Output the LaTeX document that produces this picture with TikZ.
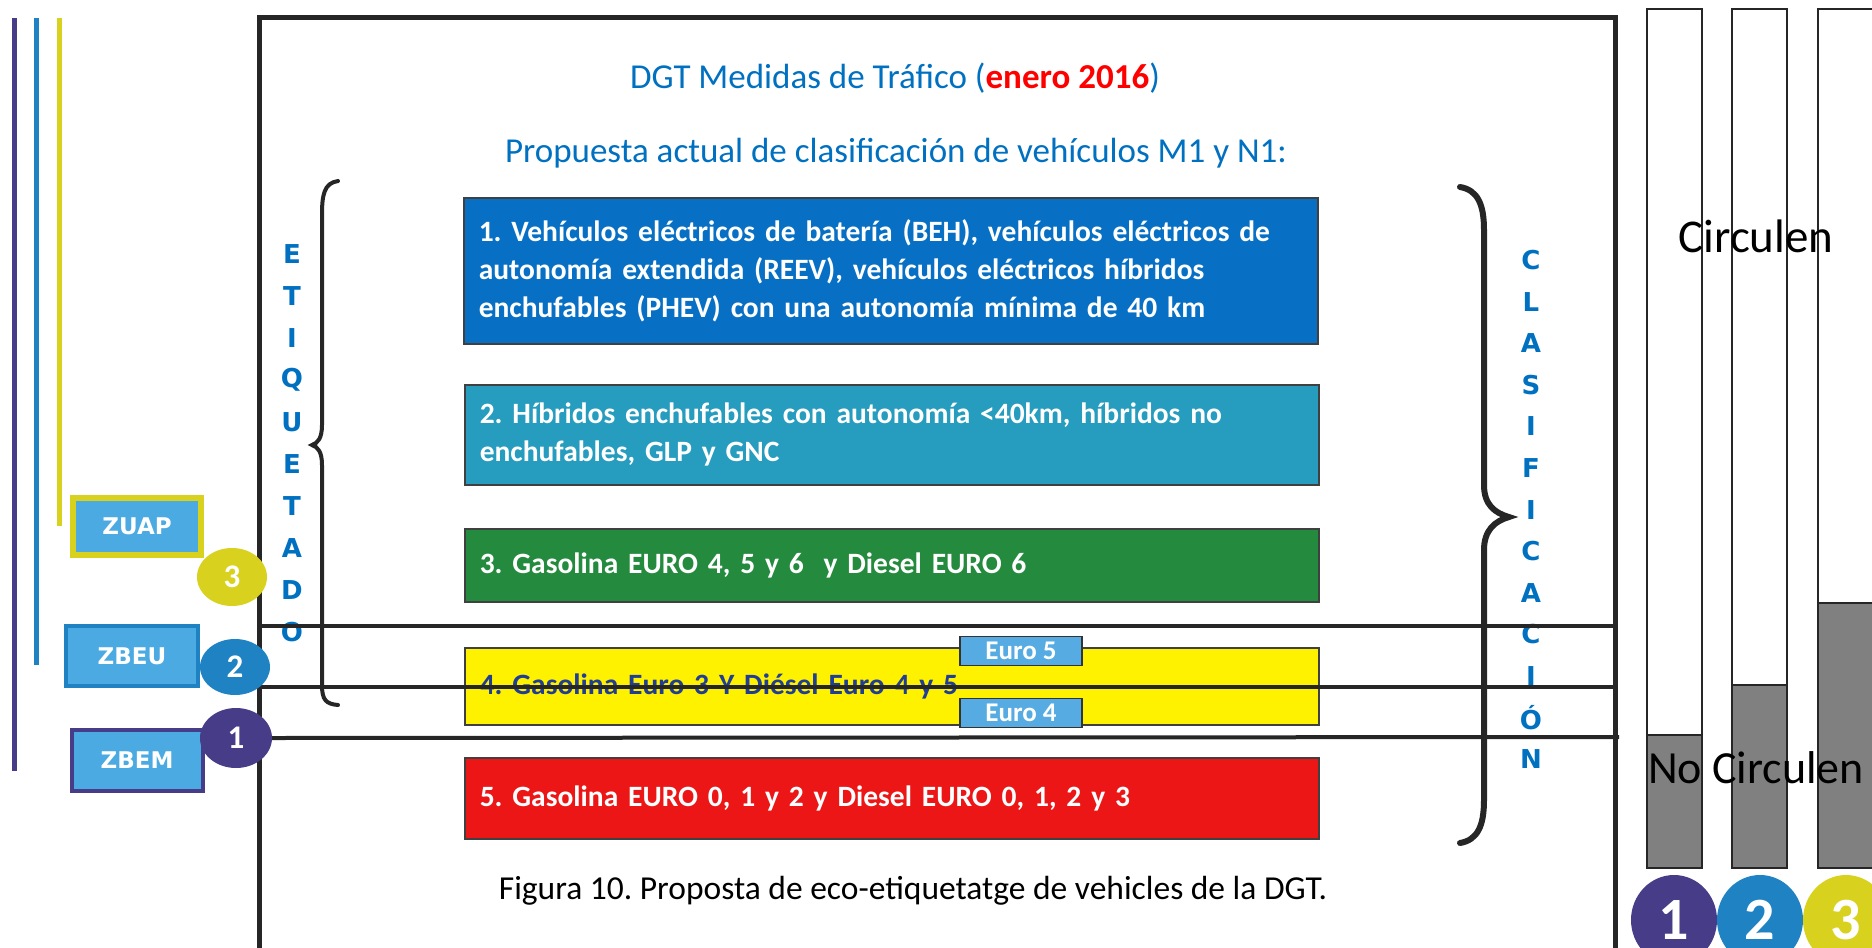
\documentclass[tikz,border=0pt]{standalone}
\usepackage{fontspec}
\setmainfont{Carlito}
\newfontfamily\vfont{DejaVu Sans}
\usetikzlibrary{positioning,shapes.geometric}
\definecolor{dgtblue}{RGB}{0,112,192}
\definecolor{catone}{RGB}{8,112,196}
\definecolor{cattwo}{RGB}{38,156,190}
\definecolor{catthree}{RGB}{36,138,62}
\definecolor{catfour}{RGB}{32,62,150}
\definecolor{catfive}{RGB}{236,22,22}
\definecolor{eurofill}{RGB}{86,172,226}
\definecolor{zonefill}{RGB}{76,170,226}
\definecolor{zpurple}{RGB}{70,60,135}
\definecolor{zblue}{RGB}{30,130,195}
\definecolor{zyellow}{RGB}{216,210,30}
\definecolor{nogray}{RGB}{128,128,128}
\frenchspacing

\begin{document}
\begin{tikzpicture}[x=1pt,y=-1pt,
  cat/.style={draw=black!75,line width=1.5pt,anchor=north west,text width=824pt,
    inner xsep=15pt,align=left,text=white,font=\fontsize{29.5}{38}\selectfont\bfseries},
  euro/.style={draw=black!80,line width=1.2pt,fill=eurofill,text=white,inner sep=0pt,
    minimum width=122pt,minimum height=29pt,font=\fontsize{27}{27}\selectfont\bfseries},
  zone/.style={fill=zonefill,text=white,inner sep=0pt,font=\vfont\fontsize{23}{23}\selectfont\bfseries},
  num/.style={ellipse,inner sep=0pt,text=white,font=\fontsize{33}{33}\selectfont\bfseries},
  bignum/.style={ellipse,inner sep=0pt,minimum width=86pt,minimum height=90pt,
    text=white,font=\fontsize{60}{60}\selectfont\bfseries},
  vlet/.style={text=dgtblue,inner sep=0pt,font=\vfont\fontsize{26}{26}\selectfont\bfseries},
  cut/.style={line width=4pt,black!85},
  brace/.style={line width=4pt,black!85,line cap=round},
  bar/.style={draw=black!85,line width=1.5pt}]
\useasboundingbox (0,0) rectangle (1872,948);

% zone lines on the left
\draw[line width=5pt,zpurple] (14,18) -- (14,771);
\draw[line width=5pt,zblue] (36,18) -- (36,665);
\draw[line width=5pt,zyellow] (59,18) -- (59,526);

% frame
\draw[line width=5pt,black!85] (259,960) |- (1615,17) -- (1615,960);

\node[font=\fontsize{35}{35}\selectfont,text=dgtblue] (title) at (895,78)
  {DGT Medidas de Tráfico (\textcolor{red}{\bfseries enero 2016})};
\node[font=\fontsize{35}{35}\selectfont,text=dgtblue] (sub) at (896,153)
  {Propuesta actual de clasificación de vehículos M1 y N1:};

\node[cat,fill=catone,minimum height=146pt] (c1) at (463,197)
  {1. Vehículos eléctricos de batería (BEH), vehículos eléctricos de\\
   autonomía extendida (REEV), vehículos eléctricos híbridos\\
   enchufables (PHEV) con una autonomía mínima de 40 km};
\node[cat,fill=cattwo,minimum height=100pt] (c2) at (464,384)
  {2. Híbridos enchufables con autonomía <40km, híbridos no\\
   enchufables, GLP y GNC};
\node[cat,fill=catthree,minimum height=73pt] (c3) at (464,528)
  {3. Gasolina EURO 4, 5 y 6\ \ y Diesel EURO 6};
\node[cat,fill=yellow,text=catfour,minimum height=77pt] (c4) at (464,647)
  {4. Gasolina Euro 3 Y Diésel Euro 4 y 5};
\node[cat,fill=catfive,minimum height=81pt] (c5) at (464,757)
  {5. Gasolina EURO 0, 1 y 2 y Diesel EURO 0, 1, 2 y 3};

\node[euro] (e5) at (1021,651) {Euro 5};
\node[euro] (e4) at (1021,713) {Euro 4};

\node[font=\fontsize{33.5}{33.5}\selectfont] (cap) at (913,891)
  {Figura 10. Proposta de eco-etiquetatge de vehicles de la DGT.};

% braces
\draw[brace] (338,181) .. controls (324,183) and (322,195) .. (322,215) -- (322,425)
  .. controls (322,438) and (318,443) .. (312,445) .. controls (318,447) and (322,452) .. (322,465)
  -- (322,685) .. controls (322,700) and (326,704) .. (338,705);
\draw[brace,line width=6pt] (1460,187) .. controls (1478,190) and (1484,205) .. (1484,230)
  -- (1484,485) .. controls (1484,505) and (1495,513) .. (1509,517)
  .. controls (1495,521) and (1484,530) .. (1484,550) -- (1484,800)
  .. controls (1484,825) and (1478,840) .. (1460,843);

\foreach \l [count=\i from 0] in {E,T,I,Q,U,E,T,A,D,O}
  \node[vlet] (et\i) at (292,{254+42*\i}) {\l};
\foreach \l [count=\i from 0] in {C,L,A,S,I,F,I,C,A,C,I,Ó,N}
  \node[vlet] (cl\i) at (1531,{260+41.6*\i}) {\l};

% euro cut lines
\coordinate (a0) at (257,626);
\coordinate (a1) at (1615,626);
\coordinate (b0) at (257,687);
\coordinate (b1) at (1615,687);
\coordinate (k1) at (1619,737);
\draw[cut] (a0) -- (a1);
\draw[cut] (b0) -- (b1);

% zones
\node[zone,draw=zyellow,line width=6pt,minimum width=128pt,minimum height=57pt] (zuap) at (137,526) {ZUAP};
\node[zone,draw=zblue,line width=4pt,minimum width=132pt,minimum height=60pt] (zbeu) at (132,656) {ZBEU};
\node[zone,draw=zpurple,line width=4pt,minimum width=131pt,minimum height=61pt] (zbem) at (137,760) {ZBEM};
\node[num,fill=zyellow,minimum width=70pt,minimum height=58pt] (n3) at (232,577) {3};
\node[num,fill=zblue,minimum width=70pt,minimum height=56pt] (n2) at (235,667) {2};
\node[num,fill=zpurple,minimum width=72pt,minimum height=60pt] (n1) at (236,738) {1};
\draw[cut] (n1.east) -- (k1);

% bars
\foreach \x/\t in {1647/735,1732/685,1818/603} {
  \draw[bar] (\x,9) rectangle ++(55,859);
  \draw[bar,fill=nogray] (\x,\t) rectangle (\x+55,868);
}
\node[font=\fontsize{47}{47}\selectfont] (go) at (1756,236) {Circulen};
\node[font=\fontsize{46}{46}\selectfont] (nogo) at (1756,768) {No Circulen};

\node[bignum,fill=zpurple] (b1) at (1674,920) {1};
\node[bignum,fill=zblue] (b2) at (1760,920) {2};
\node[bignum,fill=zyellow] (b3) at (1846,920) {3};
\end{tikzpicture}
\end{document}
